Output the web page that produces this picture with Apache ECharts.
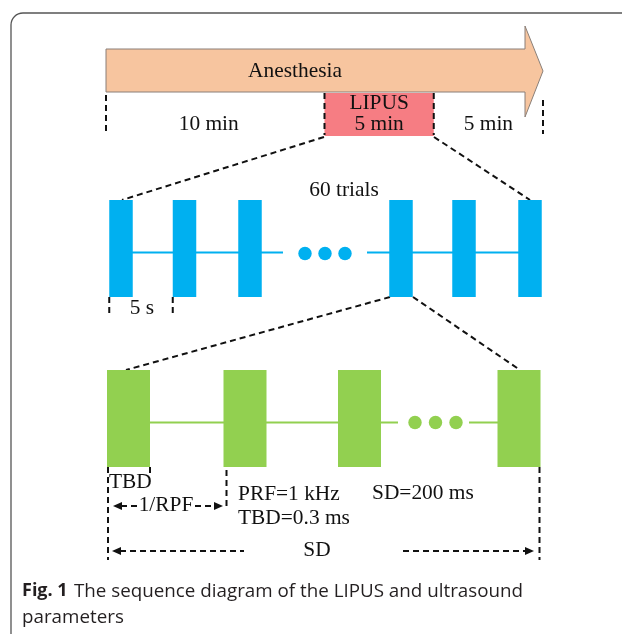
<!DOCTYPE html>
<html>
<head>
<meta charset="utf-8">
<title>LIPUS sequence diagram</title>
<script src="https://cdn.jsdelivr.net/npm/echarts@6/dist/echarts.min.js"></script>
<style>
  html, body { margin: 0; padding: 0; background: #fff; }
  #chart { width: 622px; height: 634px; }
</style>
</head>
<body>
<div id="chart"></div>
<script>
// ---- data ----
const stageTitle = 'Anesthesia'
const phaseLabels = ['10 min', 'LIPUS\n5 min', '5 min']
const phaseMinutes = [10, 5, 5]
const stimPhase = 1
const trialNumbers = [1, 2, 3, 58, 59, 60]
const trialTitle = '60 trials'
const trialGapLabel = '5 s'
const pulseNumbers = [1, 2, 3, 200]
const pulseTexts = ['TBD', '1/RPF', 'PRF=1 kHz', 'TBD=0.3 ms', 'SD=200 ms', 'SD']

const phaseStarts = phaseMinutes.map((m, i) => phaseMinutes.slice(0, i).reduce((a, b) => a + b, 0))
const totalMinutes = phaseMinutes.reduce((a, b) => a + b, 0)

// ---- layout (pixels) ----
const ink = '#111'
const dashed = { stroke: ink, lineWidth: 2, lineDash: [6, 4] }
const trialX = [121, 184.5, 250, 401, 464, 530]
const trialW = 23.5
const trialTop = 200
const trialBottom = 297
const trialLineY = 252.5
const trialDotX = [305, 325, 345]
const pulseX = [128.5, 245, 359.5, 519]
const pulseW = 43
const pulseTop = 370
const pulseBottom = 467
const pulseLineY = 422.5
const pulseDotX = [415, 435.5, 456]

function pt (api, x, y) {
  return api.coord([x, y])
}
function seg (api, a, b, style) {
  const p = api.coord(a)
  const q = api.coord(b)
  return { type: 'line', shape: { x1: p[0], y1: p[1], x2: q[0], y2: q[1] }, style: Object.assign({}, style) }
}
function label (api, pos, text, align, size) {
  const p = api.coord(pos)
  return {
    type: 'text',
    x: p[0],
    y: p[1],
    style: {
      text: text,
      font: (size || 21.4) + 'px "Liberation Serif"',
      fill: ink,
      align: align || 'center',
      verticalAlign: 'middle',
      lineHeight: 21
    }
  }
}
function head (api, pos, dir) {
  const p = api.coord(pos)
  return {
    type: 'polygon',
    shape: { points: [[p[0], p[1]], [p[0] - 9 * dir, p[1] - 4], [p[0] - 9 * dir, p[1] + 4]] },
    style: { fill: ink }
  }
}
function rectItem (api, x0, y0, x1, y1, color) {
  const p = api.coord([x0, y0])
  const q = api.coord([x1, y1])
  return { type: 'rect', shape: { x: p[0], y: p[1], width: q[0] - p[0], height: q[1] - p[1] }, style: { fill: color } }
}

const chart = echarts.init(document.getElementById('chart'))

const option = {
  animation: false,
  grid: [
    { left: 0, right: 0, top: 0, bottom: 0 },
    { left: 106, right: 79, top: 0, bottom: 0 }
  ],
  xAxis: [
    { type: 'value', min: 0, max: 622, show: false, gridIndex: 0 },
    { type: 'value', min: 0, max: totalMinutes, show: false, gridIndex: 1 }
  ],
  yAxis: [
    { type: 'value', min: 0, max: 634, inverse: true, show: false, gridIndex: 0 },
    { type: 'value', min: 0, max: 634, inverse: true, show: false, gridIndex: 1 }
  ],
  graphic: [
    {
      type: 'rect',
      shape: { x: 11, y: 13, width: 700, height: 700, r: [12, 0, 0, 0] },
      style: { fill: 'none', stroke: '#555', lineWidth: 1.3 }
    },
    {
      type: 'text',
      left: 22,
      top: 582,
      style: { text: 'Fig. 1', font: 'bold 18px "Open Sans"', fill: '#231f20' }
    },
    {
      type: 'text',
      left: 74,
      top: 582,
      style: { text: 'The sequence diagram of the LIPUS and ultrasound', font: '18.8px "Open Sans"', fill: '#231f20' }
    },
    {
      type: 'text',
      left: 22,
      top: 608,
      style: { text: 'parameters', font: '18.8px "Open Sans"', fill: '#231f20' }
    }
  ],
  series: [
    // anesthesia arrow
    {
      type: 'custom',
      xAxisIndex: 1,
      yAxisIndex: 1,
      silent: true,
      data: [[0, totalMinutes]],
      renderItem: function (params, api) {
        const l = pt(api, api.value(0), 70.5)
        const t = pt(api, api.value(1), 70.5)
        const hb = t[0] - 18
        return {
          type: 'group',
          children: [
            {
              type: 'polygon',
              shape: { points: [[l[0], 49], [hb, 49], [hb, 26], [t[0], 71], [hb, 117], [hb, 92], [l[0], 92]] },
              style: { fill: '#f7c59f', stroke: '#8a7f78', lineWidth: 1 }
            },
            label(api, [8.65, 71], stageTitle)
          ]
        }
      }
    },
    // phases
    {
      type: 'custom',
      xAxisIndex: 1,
      yAxisIndex: 1,
      silent: true,
      data: phaseStarts.map((s, i) => [s, s + phaseMinutes[i], i]),
      renderItem: function (params, api) {
        const s = api.value(0)
        const e = api.value(1)
        const i = api.value(2)
        const kids = []
        if (i === stimPhase) {
          kids.push(rectItem(api, s, 93, e, 136, '#f67d83'))
          kids.push(seg(api, [s, 93], [s, 135], dashed))
          kids.push(seg(api, [e, 93], [e, 135], dashed))
          kids.push(label(api, [(s + e) / 2, 114], phaseLabels[i]))
        } else {
          kids.push(label(api, [(s + e) / 2 - (i === 0 ? 0.3 : 0), 124], phaseLabels[i]))
        }
        if (i === 0) kids.push(seg(api, [s, 95], [s, 135], dashed))
        if (i === phaseMinutes.length - 1) kids.push(seg(api, [e, 100], [e, 134], dashed))
        return { type: 'group', children: kids }
      }
    },
    // zoom guides
    {
      type: 'custom',
      silent: true,
      data: [0],
      renderItem: function (params, api) {
        return {
          type: 'group',
          children: [
            seg(api, [324, 137], [122, 200], dashed),
            seg(api, [434, 137], [530, 200], dashed),
            seg(api, [390, 297], [126, 370], dashed),
            seg(api, [413, 297], [520, 370], dashed)
          ]
        }
      }
    },
    // trial track
    {
      type: 'custom',
      silent: true,
      data: [0],
      renderItem: function (params, api) {
        const kids = [
          seg(api, [trialX[0], trialLineY], [283, trialLineY], { stroke: '#00b0f0', lineWidth: 2 }),
          seg(api, [367, trialLineY], [trialX[trialX.length - 1], trialLineY], { stroke: '#00b0f0', lineWidth: 2 })
        ]
        trialDotX.forEach(function (x) {
          const c = api.coord([x, trialLineY + 1])
          kids.push({ type: 'circle', shape: { cx: c[0], cy: c[1], r: 6.7 }, style: { fill: '#00b0f0' } })
        })
        kids.push(label(api, [344, 190], trialTitle))
        kids.push(seg(api, [trialX[0] - trialW / 2, 297], [trialX[0] - trialW / 2, 314], dashed))
        kids.push(seg(api, [trialX[1] - trialW / 2, 297], [trialX[1] - trialW / 2, 314], dashed))
        kids.push(label(api, [142, 308], trialGapLabel))
        return { type: 'group', children: kids }
      }
    },
    // trials
    {
      type: 'custom',
      silent: true,
      data: trialNumbers.map((n, i) => [trialX[i], n]),
      renderItem: function (params, api) {
        const x = api.value(0)
        return rectItem(api, x - trialW / 2, trialTop, x + trialW / 2, trialBottom, '#00b0f0')
      }
    },
    // pulse track + annotations
    {
      type: 'custom',
      silent: true,
      data: [0],
      renderItem: function (params, api) {
        const kids = [
          seg(api, [pulseX[0], pulseLineY], [398, pulseLineY], { stroke: '#92d050', lineWidth: 2 }),
          seg(api, [469, pulseLineY], [pulseX[pulseX.length - 1], pulseLineY], { stroke: '#92d050', lineWidth: 2 })
        ]
        pulseDotX.forEach(function (x) {
          const c = api.coord([x, pulseLineY])
          kids.push({ type: 'circle', shape: { cx: c[0], cy: c[1], r: 6.7 }, style: { fill: '#92d050' } })
        })
        const l = pulseX[0] - pulseW / 2
        const r = pulseX[pulseX.length - 1] + pulseW / 2
        kids.push(seg(api, [l + 1, 467], [l + 1, 560], dashed))
        kids.push(seg(api, [l + pulseW, 467], [l + pulseW, 477], dashed))
        kids.push(seg(api, [pulseX[1] - pulseW / 2 + 3, 470], [pulseX[1] - pulseW / 2 + 3, 509], dashed))
        kids.push(seg(api, [r - 1, 467], [r - 1, 560], dashed))
        kids.push(label(api, [109, 482], pulseTexts[0], 'left'))
        // 1/RPF arrow
        kids.push(seg(api, [121, 506], [138, 506], dashed))
        kids.push(head(api, [113, 506], -1))
        kids.push(label(api, [166, 505], pulseTexts[1]))
        kids.push(seg(api, [195, 506], [215, 506], dashed))
        kids.push(head(api, [223, 506], 1))
        kids.push(label(api, [238, 494], pulseTexts[2], 'left'))
        kids.push(label(api, [238, 518], pulseTexts[3], 'left'))
        kids.push(label(api, [372, 493], pulseTexts[4], 'left'))
        // SD arrow
        kids.push(seg(api, [120, 551], [244, 551], dashed))
        kids.push(head(api, [112, 551], -1))
        kids.push(label(api, [317, 550], pulseTexts[5]))
        kids.push(seg(api, [403, 551], [526, 551], dashed))
        kids.push(head(api, [534, 551], 1))
        return { type: 'group', children: kids }
      }
    },
    // pulses
    {
      type: 'custom',
      silent: true,
      data: pulseNumbers.map((n, i) => [pulseX[i], n]),
      renderItem: function (params, api) {
        const x = api.value(0)
        return rectItem(api, x - pulseW / 2, pulseTop, x + pulseW / 2, pulseBottom, '#92d050')
      }
    }
  ]
}

chart.setOption(option)
</script>
</body>
</html>
